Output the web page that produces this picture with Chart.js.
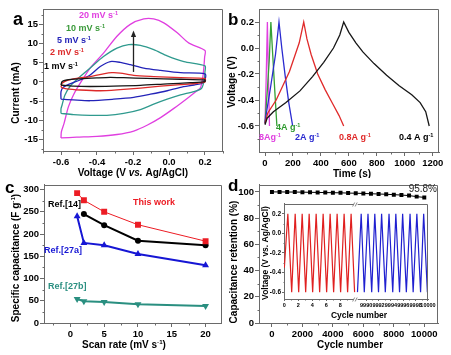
<!DOCTYPE html>
<html><head><meta charset="utf-8">
<script src="https://cdn.jsdelivr.net/npm/chart.js@4.4.1/dist/chart.umd.min.js"></script>
<style>
html,body{margin:0;padding:0;background:#fff}
#wrap{position:relative;width:451px;height:355px;overflow:hidden;background:#fff}
canvas{position:absolute}
</style></head><body><div id="wrap">
<canvas id="ca" width="226" height="178" style="left:0;top:0"></canvas>
<canvas id="cb" width="225" height="178" style="left:226px;top:0"></canvas>
<canvas id="cc" width="226" height="177" style="left:0;top:178px"></canvas>
<canvas id="cd" width="225" height="177" style="left:226px;top:178px"></canvas>
<canvas id="ci" width="182" height="122" style="left:258px;top:199px"></canvas>
</div>
<script>
// ================= DATA =================
// Panel a: cyclic voltammograms (V vs. Ag/AgCl, mA)
const cv20V = [-0.6,-0.598,-0.583,-0.559,-0.531,-0.494,-0.438,-0.364,-0.289,-0.215,-0.14,-0.085,-0.029,0.046,0.111,0.2,0.198,0.19,0.175,0.15,0.101,0.027,-0.047,-0.122,-0.196,-0.289,-0.4,-0.513,-0.6];
const cv20I = [-14.6,-13.0,-10.8,-6.5,-3.4,-0.4,3.6,7.5,11.9,15.0,16.4,16.4,15.4,12.8,10.1,8.2,6.5,2.0,-1.5,-2.5,-4.3,-6.9,-9.3,-11.3,-12.8,-13.7,-14.2,-14.4,-14.6];
const cv10V = [-0.6,-0.6,-0.594,-0.578,-0.55,-0.503,-0.438,-0.364,-0.289,-0.224,-0.159,-0.085,-0.01,0.083,0.2,0.2,0.194,0.18,0.139,0.064,-0.01,-0.085,-0.159,-0.252,-0.345,-0.438,-0.531,-0.6];
const cv10I = [-8.2,-7.0,-6.0,-3.4,-1.2,1.0,3.6,6.6,8.8,9.7,9.5,8.4,6.8,5.3,4.2,2.7,0.1,-1.7,-2.5,-3.4,-4.5,-5.8,-7.2,-8.2,-8.7,-8.7,-8.5,-8.2];
const cv5V = [-0.6,-0.6,-0.587,-0.55,-0.494,-0.438,-0.382,-0.326,-0.271,-0.215,-0.14,-0.047,0.064,0.2,0.2,0.185,0.139,0.064,-0.01,-0.103,-0.196,-0.308,-0.438,-0.531,-0.6];
const cv5I = [-4.5,-2.5,-1.4,-0.5,0.5,1.8,4.0,5.3,5.1,4.5,3.6,3.0,2.4,2.1,0.5,-0.35,-0.8,-1.4,-2.3,-3.2,-4.0,-4.5,-4.9,-4.7,-4.5];
const cv2V = [-0.6,-0.594,-0.568,-0.513,-0.438,-0.364,-0.317,-0.271,-0.196,-0.085,0.064,0.2,0.2,0.157,0.064,-0.047,-0.159,-0.271,-0.382,-0.494,-0.568,-0.6];
const cv2I = [-1.4,-0.35,0.35,0.9,1.4,2.1,2.4,2.3,1.7,1.4,1.1,0.9,0,-0.35,-0.7,-1.1,-1.6,-2.0,-2.3,-2.1,-1.8,-1.4];
const cv1V = [-0.6,-0.594,-0.568,-0.494,-0.401,-0.326,-0.252,-0.122,0.064,0.2,0.2,0.12,-0.01,-0.159,-0.308,-0.438,-0.531,-0.6];
const cv1I = [-0.8,0.1,0.5,0.8,1.05,1.2,1.1,0.9,0.7,0.5,0.1,-0.2,-0.5,-0.9,-1.1,-1.2,-1.1,-0.8];
const arrowA = [-0.2, 2.6, 13.4]; // x, from, to

// Panel b: galvanostatic charge/discharge (s, V)
const gcd04T = [0,15,60,150,250,340,420,490,535,563,600,650,700,780,870,960,1050,1110,1150,1175];
const gcd04V = [-0.59,-0.54,-0.49,-0.42,-0.33,-0.22,-0.11,0.0,0.1,0.2,0.12,0.04,-0.03,-0.12,-0.21,-0.29,-0.36,-0.42,-0.49,-0.6];
const gcd08T = [0,20,80,175,245,277,300,330,377,430,490,530,563];
const gcd08V = [-0.58,-0.5,-0.4,-0.18,0.04,0.2,0.07,-0.05,-0.2,-0.32,-0.44,-0.52,-0.6];
const gcd2T = [0,10,40,75,100,120,145,170,198];
const gcd2V = [-0.58,-0.5,-0.3,-0.05,0.2,0.0,-0.22,-0.42,-0.6];
const gcd4T = [0,15,30,42,55,70,85];
const gcd4V = [-0.58,-0.35,-0.1,0.2,-0.05,-0.33,-0.6];
const gcd8T = [0,8,17,24,32];
const gcd8V = [-0.58,-0.25,0.2,-0.2,-0.6];

// Panel c: specific capacitance vs scan rate
const scanRates = [1,2,5,10,20];
const capThisWork = [292,276,250,221,184];
const ref14Rates = [2,5,10,20];
const capRef14 = [245,220,185,175];
const capRef27a = [240,180,175,155,130];
const capRef27b = [54,49,47,42,38];

// Panel d: capacitance retention
const cycleNum = [0,500,1000,1500,2000,2500,3000,3500,4000,4500,5000,5500,6000,6500,7000,7500,8000,8500,9000,9500,10000];
const retention = [100,100,99.9,99.9,99.8,99.7,99.6,99.5,99.4,99.3,99.1,99.0,98.8,98.6,98.4,98.2,97.9,97.6,97.2,96.4,95.8];
// Inset: first and last cycles (cycle number, V)
const insetRedCycle = [0,0.5,1.05,1.55,2.05,2.55,3.05,3.55,4.05,4.55,5.05,5.55,6.05,6.55,7.05,7.55,8.05,8.55,9.05,9.55,10.05];
const insetRedV = [-0.35,0.2,-0.6,0.2,-0.6,0.2,-0.6,0.2,-0.6,0.2,-0.6,0.2,-0.6,0.2,-0.6,0.2,-0.6,0.2,-0.6,0.2,-0.6];
const insetBlueCycle = [9988.6,9989.2,9989.7,9990.3,9990.9,9991.4,9992.0,9992.5,9993.1,9993.7,9994.3,9994.8,9995.4,9995.9,9996.5,9997.1,9997.6,9998.2,9998.8,9999.3,9999.9];
const insetBlueV = [-0.6,0.2,-0.6,0.2,-0.6,0.2,-0.6,0.2,-0.6,0.2,-0.6,0.2,-0.6,0.2,-0.6,0.2,-0.6,0.2,-0.6,0.2,-0.6];

// Tick values
const ticksAX = [-0.6,-0.4,-0.2,0,0.2], minorAX = [-0.7,-0.5,-0.3,-0.1,0.1,0.3];
const ticksAY = [-15,-10,-5,0,5,10,15], minorAY = [-17.5,-12.5,-7.5,-2.5,2.5,7.5,12.5,17.5];
const ticksBX = [0,200,400,600,800,1000,1200], minorBX = [100,300,500,700,900,1100];
const ticksBY = [-0.6,-0.4,-0.2,0,0.2], minorBY = [-0.7,-0.5,-0.3,-0.1,0.1];
const ticksCX = [0,5,10,15,20], minorCX = [-2.5,2.5,7.5,12.5,17.5];
const ticksCY = [0,50,100,150,200,250,300], minorCY = [25,75,125,175,225,275];
const ticksDX = [0,2000,4000,6000,8000,10000], minorDX = [1000,3000,5000,7000,9000];
const ticksDY = [0,20,40,60,80,100], minorDY = [10,30,50,70,90];
const ticksInLeft = [0,2,4,6,8], minorInLeft = [1,3,5,7,9];
const ticksInRight = [9990,9992,9994,9996,9998,10000], minorInRight = [9991,9993,9995,9997,9999];
const ticksInY = [-0.6,-0.4,-0.2,0,0.2], minorInY = [-0.5,-0.3,-0.1,0.1];

// ================= HELPERS =================
const FAM = "'Liberation Sans', Arial, Helvetica, sans-serif";
const AX = '#6a6a6a';
Chart.defaults.font.family = FAM;
const pts = (xs, ys) => xs.map((x, i) => ({x, y: ys[i]}));
// broken inset axis
const BRK = {c0: 9990, x0: 11.7, k: 0.885, at: 10.2};
const bx = c => c < 5000 ? c : BRK.x0 + (c - BRK.c0) * BRK.k;

function drawRich(ctx, x, y, size, parts, o) {
  ctx.save();
  ctx.translate(x, y);
  if (o.rot) ctx.rotate(o.rot);
  const w = o.weight || 'bold';
  const f = p => `${p.i ? 'italic ' : ''}${w} ${p.sup ? size * 0.62 : size}px ${FAM}`;
  let total = 0;
  for (const p of parts) { ctx.font = f(p); p._w = ctx.measureText(p.t).width; total += p._w; }
  let cx = o.align === 'center' ? -total / 2 : o.align === 'right' ? -total : 0;
  const yo = o.base ? 0 : size * 0.36;
  ctx.textBaseline = 'alphabetic';
  ctx.textAlign = 'left';
  for (const p of parts) {
    ctx.font = f(p);
    ctx.fillStyle = o.color || '#000';
    ctx.fillText(p.t, cx, yo + (p.sup ? -size * 0.38 : 0));
    cx += p._w;
  }
  ctx.restore();
}

function axis(o, pos, fit) {
  return {
    type: 'linear', position: pos, min: o.min, max: o.max,
    afterBuildTicks: s => { s.ticks = o.major.map(v => ({value: v})); },
    afterFit: s => { if (pos === 'left') s.width = fit; else s.height = fit; },
    ticks: {autoSkip: false, maxRotation: 0, minRotation: 0, padding: o.pad, color: '#000',
      font: {family: FAM, size: o.fs, weight: 'bold'}, callback: v => o.fmt(v)},
    grid: {drawOnChartArea: false, drawTicks: true, tickLength: o.tl, color: AX, lineWidth: 1},
    border: {display: true, color: AX, width: 1}
  };
}

function decoPlugin(d, offX, offY, xAx, yAx) {
  return {id: 'deco', afterDraw(chart) {
    const ctx = chart.ctx, a = chart.chartArea, xs = chart.scales.x, ys = chart.scales.y;
    ctx.save();
    ctx.strokeStyle = AX; ctx.lineWidth = 1;
    const L = Math.round(a.left) + 0.5, R = Math.round(a.right) - 0.5, T = Math.round(a.top) + 0.5, B = Math.round(a.bottom) + 0.5;
    ctx.beginPath(); ctx.moveTo(L, T); ctx.lineTo(R, T); ctx.lineTo(R, B); ctx.stroke();
    ctx.beginPath();
    (xAx.minor || []).forEach(v => { if (v < xAx.min || v > xAx.max) return;
      const px = Math.round(xs.getPixelForValue(v)) + 0.5; ctx.moveTo(px, B); ctx.lineTo(px, B + xAx.ml); });
    (yAx.minor || []).forEach(v => { if (v < yAx.min || v > yAx.max) return;
      const py = Math.round(ys.getPixelForValue(v)) + 0.5; ctx.moveTo(L, py); ctx.lineTo(L - yAx.ml, py); });
    ctx.stroke();
    if (d.extra) d.extra(ctx, xs, ys, a, {L, R, T, B});
    (d.texts || []).forEach(t => drawRich(ctx, t.x - offX, t.y - offY, t.size, t.parts, t));
    ctx.restore();
  }};
}

function makeChart(id, offX, offY, W, H, area, xAx, yAx, datasets, deco) {
  return new Chart(document.getElementById(id), {
    type: 'scatter',
    data: {datasets},
    options: {
      responsive: false, animation: false, devicePixelRatio: 1, events: [],
      layout: {padding: {left: 0, top: area.t, right: W - area.r, bottom: 0}},
      plugins: {legend: {display: false}, tooltip: {enabled: false}},
      scales: {x: axis(xAx, 'bottom', H - area.b), y: axis(yAx, 'left', area.l)}
    },
    plugins: [decoPlugin(deco, offX, offY, xAx, yAx)]
  });
}
const line = (data, color, w, extra) => Object.assign({data, borderColor: color, backgroundColor: color,
  borderWidth: w, showLine: true, pointRadius: 0, fill: false, tension: 0}, extra || {});
const sup = (a, b, c) => { const r = [{t: a}, {t: b, sup: 1}]; if (c) r.push({t: c}); return r; };
const fx1 = v => v.toFixed(1), fint = v => String(v);
const ROT = -Math.PI / 2;

// ================= PANEL A =================
const MAG = '#e03fe0', TEAL = '#2f9a8e', BLUE = '#2323b8', RED = '#dd2a2a', BLK = '#161616';
makeChart('ca', 0, 0, 226, 178, {l: 43, t: 9, r: 223, b: 151},
  {min: -0.7, max: 0.3, major: ticksAX, minor: minorAX, fs: 9.5, tl: 4, ml: 2, pad: 2, fmt: fx1},
  {min: -18, max: 19, major: ticksAY, minor: minorAY, fs: 9.5, tl: 4, ml: 2, pad: 1, fmt: fint},
  [
    line(pts(cv1V, cv1I), BLK, 1.3, {tension: 0.25}),
    line(pts(cv2V, cv2I), RED, 1.3, {tension: 0.25}),
    line(pts(cv5V, cv5I), BLUE, 1.3, {tension: 0.25}),
    line(pts(cv10V, cv10I), TEAL, 1.3, {tension: 0.25}),
    line(pts(cv20V, cv20I), MAG, 1.3, {tension: 0.25})
  ],
  {
    extra(ctx, xs, ys) {
      const x = Math.round(xs.getPixelForValue(arrowA[0])) + 0.5;
      const y0 = ys.getPixelForValue(arrowA[1]), y1 = ys.getPixelForValue(arrowA[2]);
      ctx.strokeStyle = '#222'; ctx.fillStyle = '#222'; ctx.lineWidth = 1.3;
      ctx.beginPath(); ctx.moveTo(x, y0); ctx.lineTo(x, y1 + 5); ctx.stroke();
      ctx.beginPath(); ctx.moveTo(x, y1); ctx.lineTo(x - 2.6, y1 + 6.5); ctx.lineTo(x + 2.6, y1 + 6.5); ctx.closePath(); ctx.fill();
    },
    texts: [
      {x: 13, y: 25, size: 18, parts: [{t: 'a'}], base: 1},
      {x: 79, y: 15, size: 9, parts: sup('20 mV s', '-1'), color: MAG},
      {x: 66, y: 28, size: 9, parts: sup('10 mV s', '-1'), color: '#3a9a3a'},
      {x: 57, y: 40, size: 9, parts: sup('5 mV s', '-1'), color: BLUE},
      {x: 50, y: 52, size: 9, parts: sup('2 mV s', '-1'), color: RED},
      {x: 44, y: 66, size: 9, parts: sup('1 mV s', '-1'), color: '#000'},
      {x: 15, y: 93, size: 10, parts: [{t: 'Current (mA)'}], rot: ROT, align: 'center'},
      {x: 133, y: 172, size: 10, parts: [{t: 'Voltage (V '}, {t: 'vs.', i: 1}, {t: ' Ag/AgCl)'}], align: 'center'}
    ]
  });

// ================= PANEL B =================
makeChart('cb', 226, 0, 225, 178, {l: 33, t: 9, r: 213, b: 152},
  {min: -43, max: 1245, major: ticksBX, minor: minorBX, fs: 9.5, tl: 4, ml: 2, pad: 2, fmt: fint},
  {min: -0.8, max: 0.3, major: ticksBY, minor: minorBY, fs: 9.5, tl: 4, ml: 2, pad: 1, fmt: fx1},
  [
    line(pts(gcd04T, gcd04V), BLK, 1.3),
    line(pts(gcd08T, gcd08V), '#e02a2a', 1.3),
    line(pts(gcd2T, gcd2V), '#2a2ad0', 1.3),
    line(pts(gcd4T, gcd4V), '#35a035', 1.3),
    line(pts(gcd8T, gcd8V), '#e040e0', 1.3)
  ],
  {
    texts: [
      {x: 228, y: 25, size: 17, parts: [{t: 'b'}], base: 1},
      {x: 259, y: 137, size: 9, parts: sup('8Ag', '-1'), color: '#e040e0'},
      {x: 276, y: 127, size: 9, parts: sup('4A g', '-1'), color: '#2f9a2f'},
      {x: 295, y: 137, size: 9, parts: sup('2A g', '-1'), color: '#2a2ad0'},
      {x: 339, y: 137, size: 9, parts: sup('0.8A g', '-1'), color: '#e02a2a'},
      {x: 399, y: 137, size: 9, parts: sup('0.4 A g', '-1'), color: '#000'},
      {x: 231, y: 82, size: 10, parts: [{t: 'Voltage (V)'}], rot: ROT, align: 'center'},
      {x: 352, y: 173, size: 10, parts: [{t: 'Time (s)'}], align: 'center'}
    ]
  });

// ================= PANEL C =================
const cRed = '#ec1c24', cBlue = '#1616d4', cTeal = '#2a8f80';
makeChart('cc', 0, 178, 226, 177, {l: 44, t: 4, r: 222, b: 145},
  {min: -3.9, max: 22.4, major: ticksCX, minor: minorCX, fs: 9.5, tl: 4, ml: 2, pad: 2, fmt: fint},
  {min: 0, max: 311, major: ticksCY, minor: minorCY, fs: 9.5, tl: 4, ml: 2, pad: 1, fmt: fint},
  [
    line(pts(scanRates, capThisWork), cRed, 1, {pointRadius: 4.2, pointStyle: 'rect', pointBorderWidth: 0}),
    line(pts(ref14Rates, capRef14), '#000', 2, {pointRadius: 3, pointStyle: 'circle', pointBorderWidth: 0}),
    line(pts(scanRates, capRef27a), cBlue, 2, {pointRadius: 4, pointStyle: 'triangle', pointBorderWidth: 0}),
    line(pts(scanRates, capRef27b), cTeal, 2, {pointRadius: 4, pointStyle: 'triangle', pointRotation: 180, pointBorderWidth: 0})
  ],
  {
    texts: [
      {x: 5, y: 193, size: 17, parts: [{t: 'c'}], base: 1},
      {x: 133, y: 202, size: 9, parts: [{t: 'This work'}], color: cRed},
      {x: 48, y: 204, size: 9, parts: [{t: 'Ref.[14]'}], color: '#000'},
      {x: 44, y: 250, size: 9, parts: [{t: 'Ref.[27a]'}], color: cBlue},
      {x: 48, y: 286, size: 9, parts: [{t: 'Ref.[27b]'}], color: cTeal},
      {x: 15, y: 258, size: 10, parts: sup('Specific capacitance (F g', '-1', ')'), rot: ROT, align: 'center'},
      {x: 124, y: 344, size: 10, parts: sup('Scan rate (mV s', '-1', ')'), align: 'center'}
    ]
  });

// ================= PANEL D =================
makeChart('cd', 226, 178, 225, 177, {l: 33, t: 4, r: 212, b: 145},
  {min: -850, max: 10900, major: ticksDX, minor: minorDX, fs: 9.5, tl: 4, ml: 2, pad: 2, fmt: fint},
  {min: 0, max: 105.5, major: ticksDY, minor: minorDY, fs: 9.5, tl: 4, ml: 2, pad: 1, fmt: fint},
  [ line(pts(cycleNum, retention), '#000', 1, {pointRadius: 2.8, pointStyle: 'rect', pointBorderWidth: 0}) ],
  {
    texts: [
      {x: 228, y: 191, size: 17, parts: [{t: 'd'}], base: 1},
      {x: 437, y: 188, size: 10, parts: [{t: '95.8%'}], align: 'right', weight: 'normal', color: '#222'},
      {x: 233, y: 262, size: 10, parts: [{t: 'Capacitance retention (%)'}], rot: ROT, align: 'center'},
      {x: 350, y: 344, size: 10, parts: [{t: 'Cycle number'}], align: 'center'}
    ]
  });

// ================= INSET =================
const insetXMajor = ticksInLeft.concat(ticksInRight.map(bx));
const insetXMinor = minorInLeft.concat(minorInRight.map(bx));
makeChart('ci', 258, 199, 182, 122, {l: 26, t: 3, r: 170, b: 100},
  {min: -0.05, max: 20.55, major: insetXMajor, minor: insetXMinor, fs: 5.5, tl: 2, ml: 1, pad: 1,
    fmt: v => v < BRK.at ? String(v) : String(Math.round(BRK.c0 + (v - BRK.x0) / BRK.k))},
  {min: -0.67, max: 0.3, major: ticksInY, minor: minorInY, fs: 6.5, tl: 2, ml: 1, pad: 1, fmt: fx1},
  [
    line(pts(insetRedCycle, insetRedV), '#e02020', 1.2),
    line(insetBlueCycle.map((c, i) => ({x: bx(c), y: insetBlueV[i]})), '#2020d0', 1.2)
  ],
  {
    extra(ctx, xs, ys, a, f) {
      const x = xs.getPixelForValue(BRK.at);
      [f.T, f.B].forEach(y => {
        ctx.fillStyle = '#fff'; ctx.fillRect(x - 2, y - 1, 4, 2);
        ctx.strokeStyle = AX; ctx.lineWidth = 0.8;
        ctx.beginPath();
        ctx.moveTo(x - 3, y + 2); ctx.lineTo(x - 1, y - 2);
        ctx.moveTo(x - 0.5, y + 2); ctx.lineTo(x + 1.5, y - 2);
        ctx.stroke();
      });
    },
    texts: [
      {x: 265, y: 253, size: 8.5, parts: [{t: 'Voltage (V vs. Ag/AgCl)'}], rot: ROT, align: 'center'},
      {x: 359, y: 315, size: 8.5, parts: [{t: 'Cycle number'}], align: 'center'}
    ]
  });
</script></body></html>
